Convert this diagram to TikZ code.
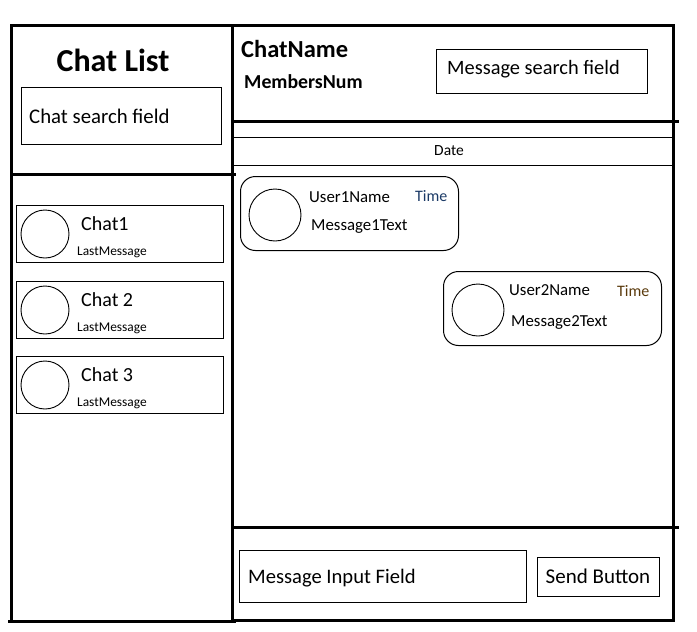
\documentclass[tikz,border=0pt]{standalone}
\usepackage{fontspec}
\setmainfont{Carlito}
\usetikzlibrary{positioning}
\definecolor{clTimeA}{HTML}{1B3A66}
\definecolor{clTimeB}{HTML}{5A3A0C}
\tikzset{
  frame/.style={line width=3pt, line cap=rect},
  divider/.style={line width=1pt},
  field/.style={draw, line width=1pt, anchor=north west, inner sep=0pt},
  bubble/.style={field, rounded corners=15pt},
  avatar/.style={circle, draw, line width=0.9pt, inner sep=0pt, minimum size=#1},
  txt/.style={anchor=base west, inner sep=0pt, font=\fontsize{#1}{#1}\selectfont},
  txtb/.style={txt=#1, font=\fontsize{#1}{#1}\selectfont\bfseries},
}

\begin{document}
\begin{tikzpicture}[x=1pt, y=-1pt]
  \useasboundingbox (0,0) rectangle (697,632);
  % panel frames
  \draw[frame] (11,25) -- (673,25);
  \draw[frame] (11,25) -- (11,621);
  \draw[frame] (232,25) -- (232,621);
  \draw[frame] (673,25) -- (673,620);
  \draw[frame] (9,621) -- (234,621);
  \draw[frame] (232,620) -- (673,620);
  \draw[frame] (11,174) -- (234,174);
  \draw[frame] (232,121) -- (677,121);
  \draw[frame] (232,527) -- (677,527);
  \draw[divider] (232,137) -- (673,137);
  \draw[divider] (232,165) -- (673,165);

  % chat list (left)
  \node[txtb=32, anchor=base] (title) at (113,71) {Chat List};
  \node[field, minimum width=200pt, minimum height=57pt] (csearch) at (21,87) {};
  \node[txt=20.8] (csearchlbl) at (29,123) {Chat search field};
  \foreach \i/\y/\name in {1/205/Chat1, 2/281/Chat 2, 3/356/Chat 3} {
    \node[field, minimum width=207pt, minimum height=57pt] (chat\i) at (16,\y) {};
    \node[avatar=48pt] (cav\i) at (45,\y+29) {};
    \node[txt=20] (cname\i) at (81,\y+25) {\name};
    \node[txt=13.4] (clast\i) at (77,\y+50) {LastMessage};
  }

  % chat header (right)
  \node[txtb=24.5] (cname) at (241,57) {ChatName};
  \node[txtb=19.8] (members) at (244,88) {MembersNum};
  \node[field, minimum width=211pt, minimum height=44pt] (msearch) at (436,49) {};
  \node[txt=20.4] (msearchlbl) at (447,74) {Message search field};
  \node[txt=15.5, anchor=base] (date) at (449,155) {Date};

  % messages
  \node[bubble, minimum width=218pt, minimum height=74pt] (msg1) at (240,176) {};
  \node[avatar=52pt] (uav1) at (275,215) {};
  \node[txt=16.8] (uname1) at (309,202) {User1Name};
  \node[txt=16, text=clTimeA] (time1) at (415,201) {Time};
  \node[txt=16.8] (mtext1) at (311,230) {Message1Text};
  \node[bubble, minimum width=218pt, minimum height=74pt] (msg2) at (443,271) {};
  \node[avatar=52pt] (uav2) at (478,310) {};
  \node[txt=16.8] (uname2) at (509,295) {User2Name};
  \node[txt=16, text=clTimeB] (time2) at (617,296) {Time};
  \node[txt=16.8] (mtext2) at (511,326) {Message2Text};

  % input row
  \node[field, minimum width=287pt, minimum height=52pt] (input) at (239,550) {};
  \node[txt=20.6] (inputlbl) at (248,583) {Message Input Field};
  \node[field, minimum width=122pt, minimum height=39pt] (send) at (537,557) {};
  \node[txt=21, anchor=base] (sendlbl) at (598,583) {Send Button};
\end{tikzpicture}
\end{document}
